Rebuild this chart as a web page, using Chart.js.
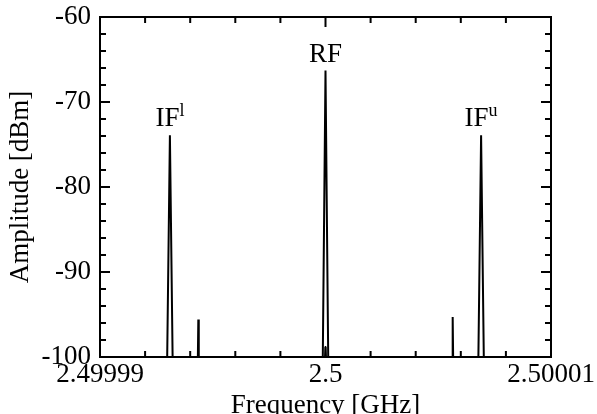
<!DOCTYPE html>
<html lang="en">
<head>
    <meta charset="UTF-8">
    <title>Spectrum</title>
    <script src="https://cdn.jsdelivr.net/npm/chart.js"></script>
    <style>
        body { margin: 0; background: #fff; }
    </style>
</head>
<body>
    <canvas id="spectrumChart" width="597" height="414"></canvas>

    <script>
        // frequency offset from 2.5 GHz, in kHz
        const freqKHz = [-10, -7.02, -6.9, -6.78, -5.66, -5.64, -5.62, -0.12, 0, 0.12, 5.62, 5.64, 5.66, 6.78, 6.9, 7.02, 10];
        const amplitude = [-100, -100, -73.9, -100, -100, -95.6, -100, -100, -66.3, -100, -100, -95.3, -100, -100, -73.9, -100, -100];

        // small residue inside the RF line
        const residueKHz = [-0.03, 0, 0.03];
        const residueAmp = [-100, -98.7, -100];

        const xTickLabels = {'-10': '2.49999', '0': '2.5', '10': '2.50001'};

        const peakNames = ['IF', 'RF', 'IF'];
        const peakSup = ['l', '', 'u'];
        const peakKHz = [-6.9, 0, 6.9];
        const peakAmp = [-73.9, -66.3, -73.9];

        const FONT = 'Liberation Serif, Times New Roman, serif';
        const FONT_SIZE = 27;

        const frameAndTicks = {
            id: 'frameAndTicks',
            afterDraw(chart) {
                const ctx = chart.ctx;
                const a = chart.chartArea;
                const xs = chart.scales.x, ys = chart.scales.y;
                ctx.save();
                ctx.strokeStyle = '#000';
                ctx.lineWidth = 2;
                ctx.strokeRect(a.left, a.top, a.right - a.left, a.bottom - a.top);

                ctx.beginPath();
                for (let v = -10; v <= 10; v += 2) {
                    const px = xs.getPixelForValue(v);
                    const len = v % 10 === 0 ? 10 : 6;
                    ctx.moveTo(px, a.bottom); ctx.lineTo(px, a.bottom - len);
                    ctx.moveTo(px, a.top); ctx.lineTo(px, a.top + len);
                }
                for (let v = -100; v <= -60; v += 2) {
                    const py = ys.getPixelForValue(v);
                    const len = v % 10 === 0 ? 10 : 6;
                    ctx.moveTo(a.left, py); ctx.lineTo(a.left + len, py);
                    ctx.moveTo(a.right, py); ctx.lineTo(a.right - len, py);
                }
                ctx.stroke();

                // peak labels
                ctx.fillStyle = '#000';
                ctx.textBaseline = 'alphabetic';
                for (let i = 0; i < peakNames.length; i++) {
                    const px = xs.getPixelForValue(peakKHz[i]);
                    const py = ys.getPixelForValue(peakAmp[i]) - 9;
                    ctx.font = FONT_SIZE + 'px ' + FONT;
                    const w1 = ctx.measureText(peakNames[i]).width;
                    ctx.font = '18px ' + FONT;
                    const w2 = peakSup[i] ? ctx.measureText(peakSup[i]).width : 0;
                    const x0 = px - (w1 + w2) / 2;
                    ctx.font = FONT_SIZE + 'px ' + FONT;
                    ctx.textAlign = 'left';
                    ctx.fillText(peakNames[i], x0, py);
                    if (peakSup[i]) {
                        ctx.font = '18px ' + FONT;
                        ctx.fillText(peakSup[i], x0 + w1, py - 10);
                    }
                }
                ctx.restore();
            }
        };

        new Chart(document.getElementById('spectrumChart'), {
            type: 'line',
            data: {
                datasets: [{
                    data: freqKHz.map((f, i) => ({x: f, y: amplitude[i]})),
                    borderColor: '#000',
                    borderWidth: 2,
                    pointRadius: 0,
                    tension: 0
                }, {
                    data: residueKHz.map((f, i) => ({x: f, y: residueAmp[i]})),
                    borderColor: '#000',
                    borderWidth: 1.5,
                    pointRadius: 0,
                    tension: 0
                }]
            },
            options: {
                responsive: false,
                animation: false,
                layout: { padding: { left: 0, right: 46, top: 17, bottom: 0 } },
                plugins: { legend: { display: false }, tooltip: { enabled: false } },
                scales: {
                    x: {
                        type: 'linear',
                        min: -10,
                        max: 10,
                        afterFit: s => { s.height = 57; s.paddingLeft = 0; s.paddingRight = 0; },
                        grid: { display: false, drawTicks: false },
                        border: { display: false },
                        ticks: {
                            stepSize: 2,
                            autoSkip: false,
                            maxRotation: 0,
                            padding: 2,
                            color: '#000',
                            font: { family: FONT, size: FONT_SIZE },
                            callback: v => xTickLabels[String(Math.round(v))] || ''
                        },
                        title: {
                            display: true,
                            text: 'Frequency [GHz]',
                            color: '#000',
                            font: { family: FONT, size: FONT_SIZE },
                            padding: { top: 0, bottom: -8 }
                        }
                    },
                    y: {
                        min: -100,
                        max: -60,
                        afterFit: s => { s.width = 100; s.paddingTop = 0; s.paddingBottom = 0; },
                        grid: { display: false, drawTicks: false },
                        border: { display: false },
                        ticks: {
                            stepSize: 2,
                            autoSkip: false,
                            padding: 9,
                            color: '#000',
                            font: { family: FONT, size: FONT_SIZE },
                            callback: v => (Math.round(v) % 10 === 0 ? String(Math.round(v)) : '')
                        },
                        title: {
                            display: true,
                            text: 'Amplitude [dBm]',
                            color: '#000',
                            font: { family: FONT, size: FONT_SIZE },
                            padding: { top: 5, bottom: 0 }
                        }
                    }
                }
            },
            plugins: [frameAndTicks]
        });
    </script>
</body>
</html>
